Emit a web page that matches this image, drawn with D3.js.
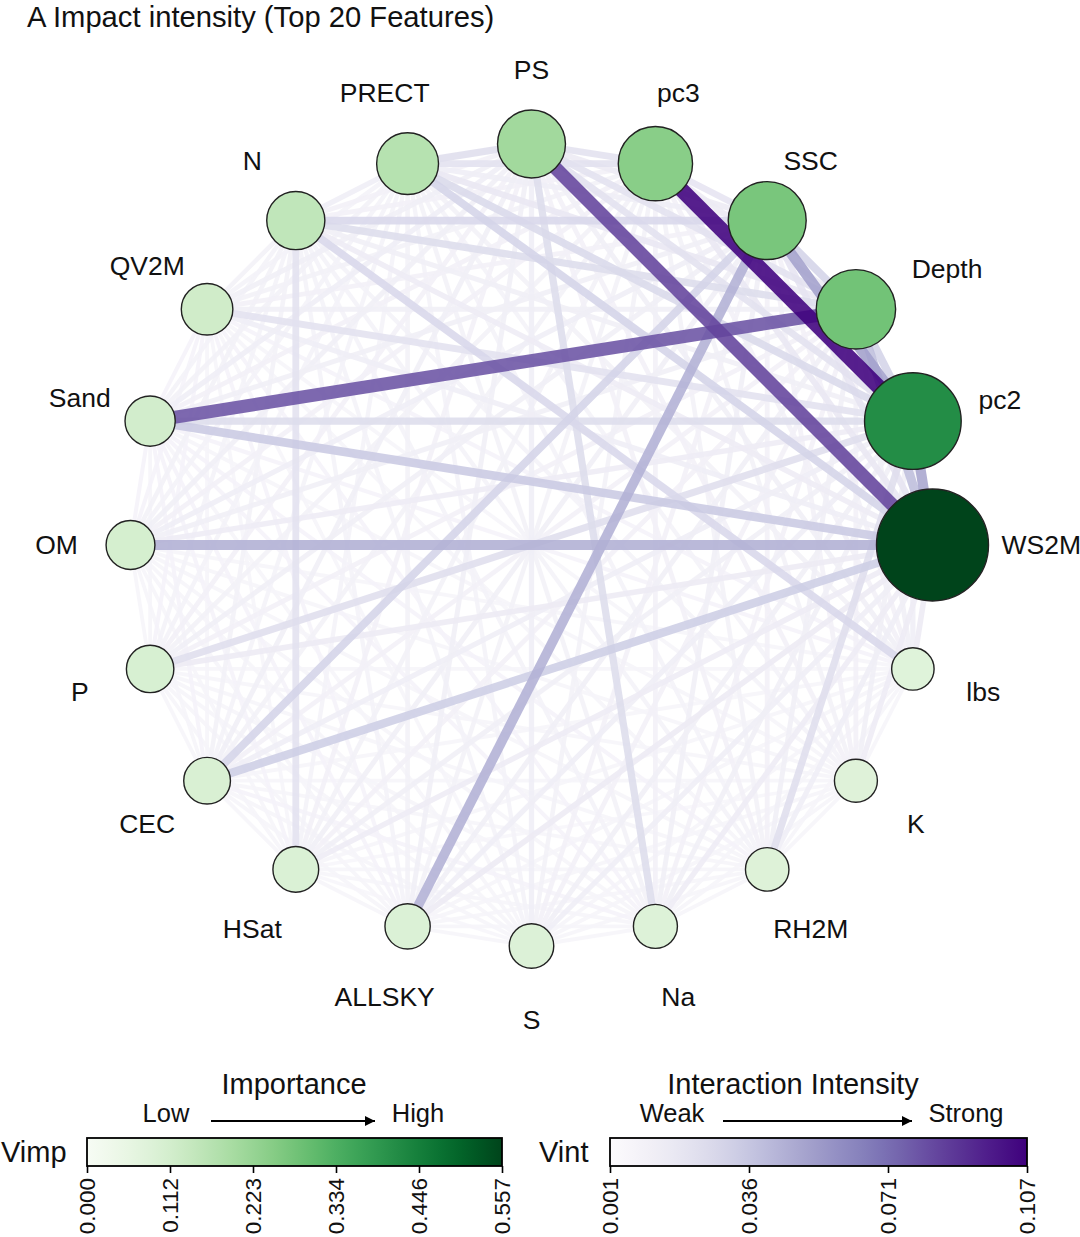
<!DOCTYPE html>
<html>
<head>
<meta charset="utf-8">
<script src="https://cdn.jsdelivr.net/npm/d3@7"></script>
<style>
  html, body { margin: 0; padding: 0; background: #ffffff; }
  svg { display: block; font-family: "Liberation Sans", Arial, Helvetica, sans-serif; }
</style>
</head>
<body>
<svg id="chart" width="1080" height="1237"></svg>
<script>
// ---------------- DATA ----------------
const title = "A Impact intensity (Top 20 Features)";
const features = ["WS2M","pc2","Depth","SSC","pc3","PS","PRECT","N","QV2M","Sand",
                  "OM","P","CEC","HSat","ALLSKY","S","Na","RH2M","K","lbs"];
const importance = [0.557,0.415,0.280,0.270,0.245,0.205,0.170,0.150,0.118,0.112,
                    0.106,0.100,0.097,0.093,0.091,0.088,0.086,0.084,0.082,0.080];
// lower-triangular interaction matrix: row i lists interaction with features 0..i-1
const interaction = [
  [],
  [0.050],
  [0.040,0.030],
  [0.020,0.052,0.030],
  [0.018,0.107,0.015,0.020],
  [0.085,0.022,0.022,0.015,0.022],
  [0.030,0.027,0.018,0.013,0.022,0.024],
  [0.014,0.012,0.025,0.028,0.011,0.011,0.013],
  [0.013,0.022,0.012,0.011,0.010,0.012,0.009,0.010],
  [0.035,0.025,0.080,0.012,0.011,0.013,0.010,0.009,0.008],
  [0.046,0.014,0.012,0.013,0.011,0.012,0.009,0.010,0.008,0.008],
  [0.015,0.024,0.011,0.012,0.010,0.011,0.009,0.009,0.008,0.007,0.007],
  [0.033,0.013,0.011,0.030,0.010,0.012,0.009,0.010,0.007,0.008,0.007,0.007],
  [0.014,0.012,0.011,0.012,0.010,0.011,0.009,0.022,0.007,0.008,0.007,0.007,0.007],
  [0.015,0.013,0.012,0.045,0.010,0.012,0.010,0.009,0.008,0.008,0.007,0.007,0.007,0.007],
  [0.013,0.012,0.011,0.011,0.010,0.013,0.009,0.009,0.007,0.007,0.007,0.007,0.007,0.006,0.007],
  [0.014,0.012,0.011,0.012,0.011,0.025,0.010,0.009,0.008,0.008,0.007,0.007,0.008,0.007,0.007,0.007],
  [0.013,0.024,0.012,0.011,0.010,0.011,0.009,0.009,0.007,0.008,0.007,0.007,0.007,0.007,0.007,0.007,0.007],
  [0.014,0.012,0.011,0.011,0.010,0.011,0.009,0.009,0.007,0.007,0.007,0.007,0.007,0.006,0.007,0.007,0.007,0.007],
  [0.015,0.013,0.012,0.011,0.011,0.012,0.010,0.028,0.008,0.008,0.007,0.007,0.007,0.007,0.007,0.007,0.007,0.007,0.007]
];
const vimpDomain = [0.000, 0.557];
const vintDomain = [0.001, 0.107];
const vimpTicks = ["0.000","0.112","0.223","0.334","0.446","0.557"];
const vintTicks = ["0.001","0.036","0.071","0.107"];

// ---------------- LAYOUT ----------------
const svg = d3.select("#chart");
const cx = 531.5, cy = 545, R = 401;
const FONT = '"Liberation Sans", Arial, Helvetica, sans-serif';

const angle = d3.scaleLinear().domain([0, features.length]).range([0, 2 * Math.PI]);
const rNode = d3.scaleSqrt().domain(vimpDomain).range([0, 56]);
const greens = d3.scaleSequential(d3.interpolateGreens).domain(vimpDomain);
const purples = d3.scaleSequential(d3.interpolatePurples).domain(vintDomain);
const wEdge = d3.scaleSqrt().domain([0, vintDomain[1]]).range([0, 15]);

const nodes = features.map((f, i) => {
  const a = angle(i);
  return { name: f, imp: importance[i], x: cx + R * Math.cos(a), y: cy - R * Math.sin(a), a: a };
});

const links = [];
interaction.forEach((row, i) => row.forEach((v, j) => links.push({ s: nodes[i], t: nodes[j], v: v })));
links.sort((a, b) => a.v - b.v);

// title
svg.append("text").attr("x", 27).attr("y", 27).attr("font-size", 29.2).attr("fill", "#111")
  .attr("font-family", FONT).text(title);

// edges
svg.append("g").selectAll("line").data(links).join("line")
  .attr("x1", d => d.s.x).attr("y1", d => d.s.y)
  .attr("x2", d => d.t.x).attr("y2", d => d.t.y)
  .attr("stroke", d => purples(d.v))
  .attr("stroke-width", d => wEdge(d.v))
  .attr("stroke-opacity", 0.88)
  .attr("stroke-linecap", "butt");

// nodes
svg.append("g").selectAll("circle").data(nodes).join("circle")
  .attr("cx", d => d.x).attr("cy", d => d.y)
  .attr("r", d => rNode(d.imp))
  .attr("fill", d => greens(d.imp))
  .attr("stroke", "#222").attr("stroke-width", 1.4);

// labels: big nodes on the right side are left-aligned, others centred on an outer ring
const bigRight = d => Math.cos(d.a) > 0.75 && rNode(d.imp) > 38;
svg.append("g").selectAll("text").data(nodes).join("text")
  .attr("x", d => cx + (bigRight(d) ? 470 : 475) * Math.cos(d.a))
  .attr("y", d => cy - (bigRight(d) ? 470 : 475) * Math.sin(d.a))
  .attr("text-anchor", d => bigRight(d) ? "start" : "middle")
  .attr("dominant-baseline", "central")
  .attr("font-size", 26.5).attr("fill", "#111").attr("font-family", FONT)
  .text(d => d.name);

// ---------------- LEGENDS ----------------
const defs = svg.append("defs");
defs.append("marker").attr("id", "arrow").attr("viewBox", "0 0 10 10")
  .attr("refX", 10).attr("refY", 5).attr("markerWidth", 11).attr("markerHeight", 10)
  .attr("markerUnits", "userSpaceOnUse").attr("orient", "auto")
  .append("path").attr("d", "M0,0 L10,5 L0,10 Z").attr("fill", "#000");

function legend(cfg) {
  const g = svg.append("g");
  const grad = defs.append("linearGradient").attr("id", cfg.id).attr("x1", "0%").attr("x2", "100%");
  d3.range(0, 1.0001, 0.05).forEach(t => grad.append("stop")
    .attr("offset", (t * 100) + "%").attr("stop-color", cfg.interp(t)));
  const [x0, x1] = cfg.range;
  const y0 = 1138, h = 28;
  g.append("text").attr("x", cfg.titleX).attr("y", 1094).attr("text-anchor", "middle")
    .attr("font-size", 29).attr("font-family", FONT).attr("fill", "#111").text(cfg.title);
  g.append("text").attr("x", cfg.lowX).attr("y", 1122).attr("text-anchor", "middle")
    .attr("font-size", 25.5).attr("font-family", FONT).attr("fill", "#111").text(cfg.low);
  g.append("text").attr("x", cfg.highX).attr("y", 1122).attr("text-anchor", "middle")
    .attr("font-size", 25.5).attr("font-family", FONT).attr("fill", "#111").text(cfg.high);
  g.append("line").attr("x1", cfg.arrow[0]).attr("x2", cfg.arrow[1]).attr("y1", 1121).attr("y2", 1121)
    .attr("stroke", "#000").attr("stroke-width", 2).attr("marker-end", "url(#arrow)");
  g.append("text").attr("x", cfg.labelX).attr("y", 1162).attr("text-anchor", "start")
    .attr("font-size", 29).attr("font-family", FONT).attr("fill", "#111").text(cfg.label);
  g.append("rect").attr("x", x0).attr("y", y0).attr("width", x1 - x0).attr("height", h)
    .attr("fill", `url(#${cfg.id})`).attr("stroke", "#000").attr("stroke-width", 1.8);
  const sc = d3.scalePoint().domain(cfg.ticks).range([x0, x1]);
  const ax = g.append("g").attr("transform", `translate(0,${y0 + h})`)
    .call(d3.axisBottom(sc).tickSize(7).tickPadding(4));
  ax.select(".domain").remove();
  ax.selectAll(".tick line").attr("stroke", "#000").attr("stroke-width", 1.6);
  ax.selectAll(".tick text")
    .attr("font-size", 22.5).attr("font-family", FONT).attr("fill", "#111")
    .attr("transform", "rotate(-90)").attr("text-anchor", "end")
    .attr("x", -12).attr("y", 0).attr("dy", "0.35em");
}

legend({ id: "gGreens", interp: d3.interpolateGreens, range: [87, 502], ticks: vimpTicks,
  title: "Importance", titleX: 294, low: "Low", high: "High", lowX: 166, highX: 418,
  arrow: [211, 375], label: "Vimp", labelX: 1 });
legend({ id: "gPurples", interp: d3.interpolatePurples, range: [610, 1027], ticks: vintTicks,
  title: "Interaction Intensity", titleX: 793, low: "Weak", high: "Strong", lowX: 672, highX: 966,
  arrow: [723, 912], label: "Vint", labelX: 539 });
</script>
</body>
</html>
